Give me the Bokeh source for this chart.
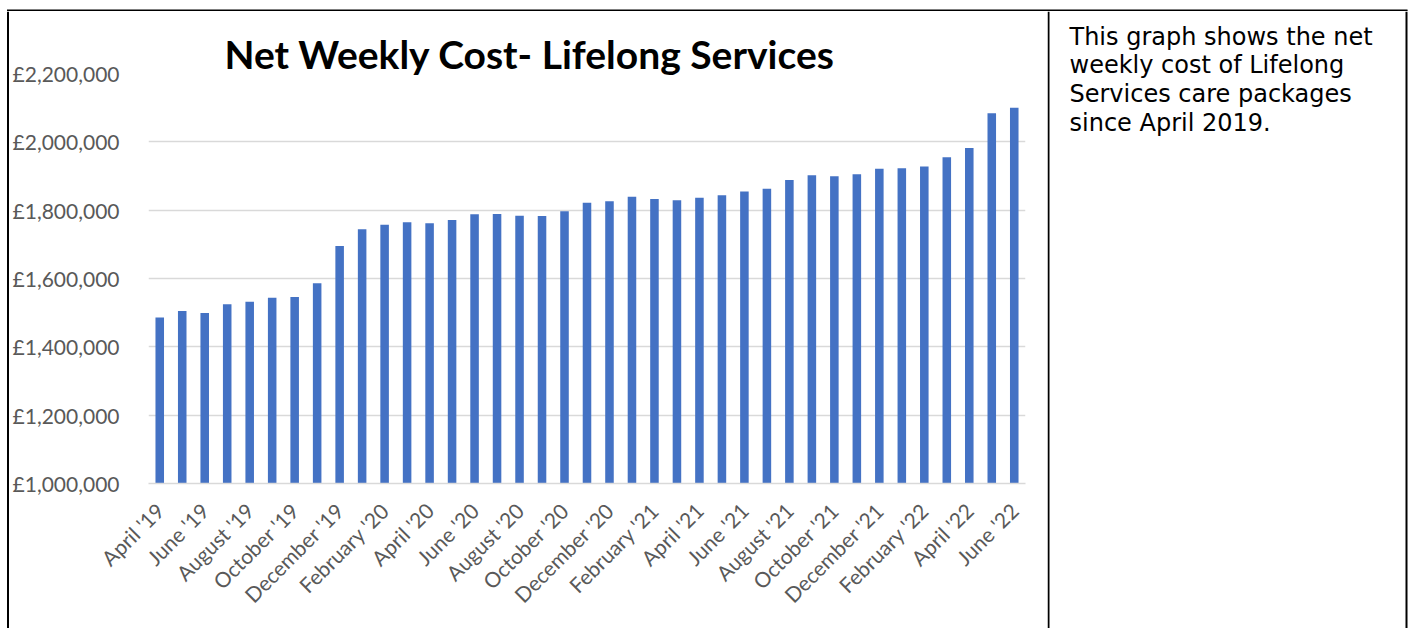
from bokeh.plotting import figure
from bokeh.models import Range1d, FixedTicker, Label, Title
from bokeh.layouts import row, column
from bokeh.embed import file_html
from bokeh.resources import INLINE

months = ["April '19", "May '19", "June '19", "July '19", "August '19", "September '19",
          "October '19", "November '19", "December '19", "January '20", "February '20",
          "March '20", "April '20", "May '20", "June '20", "July '20", "August '20",
          "September '20", "October '20", "November '20", "December '20", "January '21",
          "February '21", "March '21", "April '21", "May '21", "June '21", "July '21",
          "August '21", "September '21", "October '21", "November '21", "December '21",
          "January '22", "February '22", "March '22", "April '22", "May '22", "June '22"]

net_weekly_cost = [1486000, 1505000, 1499000, 1525000, 1532000, 1544000, 1546000, 1586000,
                   1695000, 1744000, 1757000, 1765000, 1762000, 1771000, 1788000, 1789000,
                   1784000, 1783000, 1797000, 1822000, 1826000, 1839000, 1833000, 1829000,
                   1836000, 1844000, 1855000, 1863000, 1888000, 1902000, 1899000, 1905000,
                   1921000, 1923000, 1928000, 1955000, 1982000, 2084000, 2100000]

y_ticks = [1000000, 1200000, 1400000, 1600000, 1800000, 2000000, 2200000]
y_tick_labels = ["£1,000,000", "£1,200,000", "£1,400,000", "£1,600,000",
                 "£1,800,000", "£2,000,000", "£2,200,000"]

title_text = "Net Weekly Cost- Lifelong Services"
note_lines = ["This graph shows the net", "weekly cost of Lifelong",
              "Services care packages", "since April 2019."]

TOTAL_W, TOTAL_H = 1413, 628
TOP_H = 11
LEFT_W = 9
MAIN_W = 1038
NOTE_W = TOTAL_W - LEFT_W - MAIN_W
BODY_H = TOTAL_H - TOP_H


def blank(w, h):
    f = figure(width=w, height=h, output_backend="svg", toolbar_location=None,
               x_range=Range1d(0, w), y_range=Range1d(h, 0),
               x_axis_location=None, y_axis_location=None, min_border=0,
               frame_align=False)
    f.outline_line_color = None
    f.background_fill_color = "white"
    f.border_fill_color = "white"
    f.grid.grid_line_color = None
    return f


# ---- border strips ----
top = blank(TOTAL_W, TOP_H)
top.segment(x0=[6.5], y0=[9], x1=[1407], y1=[9], line_color="black", line_width=2)
top.segment(x0=[7.5, 1048, 1406], y0=[9, 9, 9], x1=[7.5, 1048, 1406], y1=[11, 11, 11],
            line_color="black", line_width=2)

left = blank(LEFT_W, BODY_H)
left.segment(x0=[7.5], y0=[0], x1=[7.5], y1=[BODY_H], line_color="black", line_width=2)

# ---- note panel ----
note = blank(NOTE_W, BODY_H)
note.segment(x0=[1, 359], y0=[0, 0], x1=[1, 359], y1=[BODY_H, BODY_H],
             line_color="black", line_width=2)
for k, line in enumerate(note_lines):
    note.add_layout(Label(x=22, y=25 + 28.7 * k, text=line,
                          text_font="DejaVu Sans", text_font_size="24px", text_color="black",
                          text_align="left", text_baseline="alphabetic"))

# ---- main chart ----
p = figure(width=MAIN_W, height=BODY_H, output_backend="svg", toolbar_location=None,
           x_range=Range1d(-0.5, len(months) - 0.5),
           y_range=Range1d(y_ticks[0], y_ticks[-1]),
           min_border_left=139, min_border_right=22,
           min_border_top=62, min_border_bottom=145, frame_align=False)
p.outline_line_color = None
p.background_fill_color = "white"
p.border_fill_color = "white"

p.title = Title(text=title_text, align="left", offset=76, standoff=-7,
                text_font="Lato", text_font_style="bold", text_font_size="39px",
                text_color="black")

xs = list(range(len(months)))
p.vbar(x=xs, top=net_weekly_cost, bottom=y_ticks[0], width=0.38,
       fill_color="#4472C4", line_color=None)

p.xgrid.grid_line_color = None
p.ygrid.grid_line_color = "#d9d9d9"
p.ygrid.grid_line_width = 1.5
p.yaxis.ticker = FixedTicker(ticks=y_ticks)
p.yaxis.major_label_overrides = {t: l for t, l in zip(y_ticks, y_tick_labels)}
p.yaxis.axis_line_color = None
p.yaxis.major_tick_line_color = None
p.yaxis.minor_tick_line_color = None
p.yaxis.major_tick_in = 0
p.yaxis.major_tick_out = 0
p.yaxis.major_label_standoff = 29
p.yaxis.major_label_text_font = "Lato"
p.yaxis.major_label_text_font_size = "21px"
p.yaxis.major_label_text_color = "#595959"

shown = xs[::2]
p.xaxis.ticker = FixedTicker(ticks=shown)
p.xaxis.major_label_overrides = {i: months[i] for i in shown}
p.xaxis.major_label_orientation = 0.785398
p.xaxis.axis_line_color = "#d9d9d9"
p.xaxis.axis_line_width = 1.5
p.xaxis.major_tick_line_color = None
p.xaxis.minor_tick_line_color = None
p.xaxis.major_tick_in = 0
p.xaxis.major_tick_out = 0
p.xaxis.major_label_standoff = 23
p.xaxis.major_label_text_font = "Lato"
p.xaxis.major_label_text_font_size = "21px"
p.xaxis.major_label_text_color = "#595959"

layout = column(top, row(left, p, note))
open("out.html", "w").write(file_html(layout, INLINE))
